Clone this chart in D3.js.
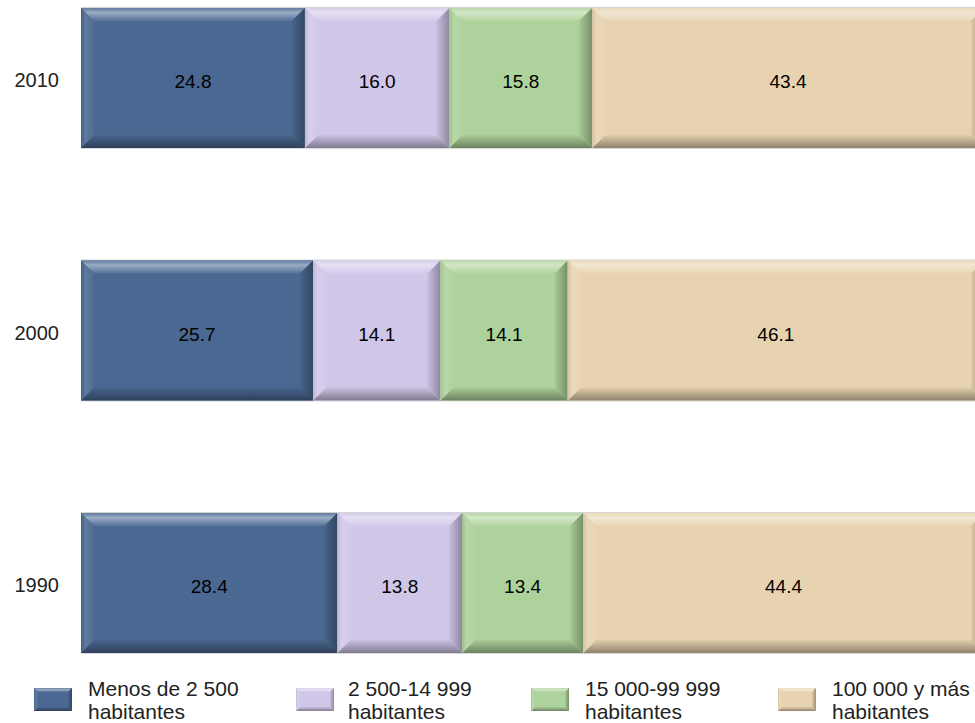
<!DOCTYPE html>
<html>
<head>
<meta charset="utf-8">
<script src="https://cdn.jsdelivr.net/npm/d3@7"></script>
<style>
  html, body { margin: 0; padding: 0; background: #ffffff; }
  svg { display: block; font-family: "Liberation Sans", Arial, sans-serif; }
</style>
</head>
<body>
<svg id="chart" width="975" height="723"></svg>
<script>
// ---- Data ----
const years = ["2010", "2000", "1990"];
const menos2500 = [24.8, 25.7, 28.4];
const de2500a14999 = [16.0, 14.1, 13.8];
const de15000a99999 = [15.8, 14.1, 13.4];
const de100000ymas = [43.4, 46.1, 44.4];
const seriesKeys = ["menos", "s2500", "s15000", "s100000"];
const legendLine1 = ["Menos de 2 500", "2 500-14 999", "15 000-99 999", "100 000 y más"];
const legendLine2 = ["habitantes", "habitantes", "habitantes", "habitantes"];
const seriesColors = ["#4a6891", "#d0c7e8", "#aed29b", "#e8d3b0"];

// ---- Layout ----
const W = 975, H = 723;
const svg = d3.select("#chart");
svg.append("rect").attr("width", W).attr("height", H).attr("fill", "#fff");

const table = years.map((y, i) => ({
  year: y,
  menos: menos2500[i],
  s2500: de2500a14999[i],
  s15000: de15000a99999[i],
  s100000: de100000ymas[i]
}));
const stacked = d3.stack().keys(seriesKeys)(table);

const x = d3.scaleLinear().domain([0, 100]).range([81, 984]);
const y = d3.scaleBand().domain(years).range([8, 653]).paddingInner(0.4455).paddingOuter(0);
const color = d3.scaleOrdinal().domain(seriesKeys).range(seriesColors);

// ---- Gradients for bevel effect ----
const defs = svg.append("defs");
const lighten = (c, t) => d3.interpolateRgb(c, "#ffffff")(t);
const darken = (c, t) => d3.interpolateRgb(c, "#000000")(t);

seriesKeys.forEach((k, i) => {
  const c = seriesColors[i];
  const top = defs.append("linearGradient").attr("id", "top-" + k)
    .attr("x1", 0).attr("y1", 0).attr("x2", 0).attr("y2", 1);
  top.append("stop").attr("offset", "0%").attr("stop-color", lighten(c, 0.12));
  top.append("stop").attr("offset", "35%").attr("stop-color", lighten(c, 0.45));
  top.append("stop").attr("offset", "100%").attr("stop-color", lighten(c, 0.06));

  const bot = defs.append("linearGradient").attr("id", "bot-" + k)
    .attr("x1", 0).attr("y1", 0).attr("x2", 0).attr("y2", 1);
  bot.append("stop").attr("offset", "0%").attr("stop-color", darken(c, 0.03));
  bot.append("stop").attr("offset", "100%").attr("stop-color", darken(c, 0.38));

  const left = defs.append("linearGradient").attr("id", "left-" + k)
    .attr("x1", 0).attr("y1", 0).attr("x2", 1).attr("y2", 0);
  left.append("stop").attr("offset", "0%").attr("stop-color", darken(c, 0.08));
  left.append("stop").attr("offset", "35%").attr("stop-color", lighten(c, 0.12));
  left.append("stop").attr("offset", "100%").attr("stop-color", lighten(c, 0.03));

  const right = defs.append("linearGradient").attr("id", "right-" + k)
    .attr("x1", 0).attr("y1", 0).attr("x2", 1).attr("y2", 0);
  right.append("stop").attr("offset", "0%").attr("stop-color", darken(c, 0.04));
  right.append("stop").attr("offset", "100%").attr("stop-color", darken(c, 0.32));
});

function bevel(g, k, x0, y0, w, h, b) {
  const x1 = x0 + w, y1 = y0 + h;
  g.append("rect").attr("x", x0).attr("y", y0).attr("width", w).attr("height", h)
    .attr("fill", color(k));
  g.append("polygon").attr("fill", `url(#top-${k})`)
    .attr("points", [[x0, y0], [x1, y0], [x1 - b, y0 + b], [x0 + b, y0 + b]].join(" "));
  g.append("polygon").attr("fill", `url(#bot-${k})`)
    .attr("points", [[x0 + b, y1 - b], [x1 - b, y1 - b], [x1, y1], [x0, y1]].join(" "));
  g.append("polygon").attr("fill", `url(#left-${k})`)
    .attr("points", [[x0, y0], [x0 + b, y0 + b], [x0 + b, y1 - b], [x0, y1]].join(" "));
  g.append("polygon").attr("fill", `url(#right-${k})`)
    .attr("points", [[x1 - b, y0 + b], [x1, y0], [x1, y1], [x1 - b, y1 - b]].join(" "));
}

// ---- Bars ----
const barsG = svg.append("g");
years.forEach(yr => {
  barsG.append("line").attr("x1", x(0)).attr("x2", x(100))
    .attr("y1", y(yr) - 0.5).attr("y2", y(yr) - 0.5)
    .attr("stroke", "#d4d4d4").attr("stroke-width", 1);
  barsG.append("line").attr("x1", x(0)).attr("x2", x(100))
    .attr("y1", y(yr) + y.bandwidth() + 0.5).attr("y2", y(yr) + y.bandwidth() + 0.5)
    .attr("stroke", "#d9d9d9").attr("stroke-width", 1);
});

stacked.forEach(series => {
  const k = series.key;
  series.forEach(d => {
    const g = barsG.append("g");
    bevel(g, k, x(d[0]), y(d.data.year), x(d[1]) - x(d[0]), y.bandwidth(), 13);
  });
});

// ---- Value labels ----
stacked.forEach(series => {
  series.forEach(d => {
    svg.append("text")
      .attr("x", (x(d[0]) + x(d[1])) / 2)
      .attr("y", y(d.data.year) + y.bandwidth() / 2 + 10)
      .attr("text-anchor", "middle")
      .attr("font-size", 19)
      .attr("fill", "#000")
      .text((d[1] - d[0]).toFixed(1));
  });
});

// ---- Category axis labels ----
const yAxis = d3.axisLeft(y).tickSize(0).tickPadding(0);
const axG = svg.append("g").attr("transform", "translate(59,3)").call(yAxis);
axG.select(".domain").remove();
axG.selectAll("text").attr("font-size", 20).attr("fill", "#222")
  .attr("font-family", "'Liberation Sans', Arial, sans-serif");

// ---- Legend ----
const legendSwatchX = [34, 296, 531, 778];
const legendTextX = [88, 348, 585, 832];
const legG = svg.append("g");
seriesKeys.forEach((k, i) => {
  const g = legG.append("g");
  bevel(g, k, legendSwatchX[i], 688, 38, 23, 4);
  const t = g.append("text").attr("x", legendTextX[i]).attr("y", 696)
    .attr("font-size", 21).attr("fill", "#222");
  t.append("tspan").attr("x", legendTextX[i]).text(legendLine1[i]);
  t.append("tspan").attr("x", legendTextX[i]).attr("dy", 23).text(legendLine2[i]);
});
</script>
</body>
</html>
